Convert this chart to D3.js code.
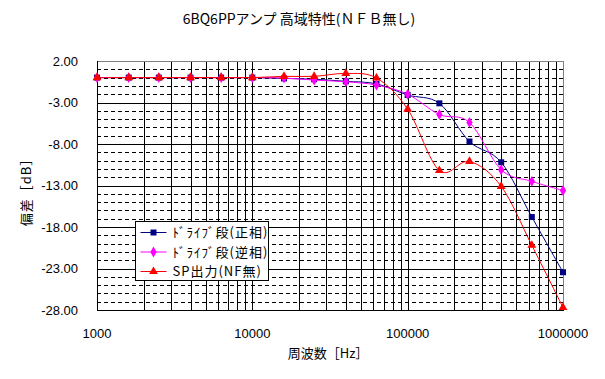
<!DOCTYPE html>
<html>
<head>
<meta charset="utf-8">
<script src="https://cdn.jsdelivr.net/npm/d3@7"></script>
<style>
  body { margin: 0; background: #fff; }
  text { font-family: "Liberation Sans", Arial, "Noto Sans CJK JP", sans-serif; fill: #000; }
  .jp { font-family: "Noto Sans CJK JP", sans-serif; }
</style>
</head>
<body>
<svg id="chart" width="605" height="379"></svg>
<script>
// data
var freqs = [1000, 1600, 2500, 4000, 6300, 10000, 16000, 25000, 40000, 63000,
             100000, 160000, 250000, 400000, 630000, 1000000];
var drivePos = [0, 0, 0, 0, 0, 0, -0.1, -0.2, -0.45, -0.75, -2.1, -3.1, -7.7, -10.2, -16.8, -23.45];
var driveNeg = [0, 0, 0, 0, 0, 0, -0.05, -0.3, -0.5, -0.9, -2.0, -4.45, -5.4, -11.1, -12.5, -13.6];
var spOut    = [0, 0, 0, 0, 0, 0, 0.15, 0.15, 0.5, -0.05, -3.8, -11.2, -10.1, -13.1, -20.2, -27.7];
var yTicks = [2, -3, -8, -13, -18, -23, -28];
var xTicks = [1000, 10000, 100000, 1000000];
var seriesNames = ["ﾄﾞﾗｲﾌﾞ段(正相)", "ﾄﾞﾗｲﾌﾞ段(逆相)", "SP出力(NF無)"];
var seriesColors = ["#000080", "#FF00FF", "#FF0000"];
var seriesShapes = [d3.symbolSquare, d3.symbolDiamond, d3.symbolTriangle];

var svg = d3.select("#chart");
var x = d3.scaleLog().domain([1000, 1000000]).range([97, 563]);
var y = d3.scaleLinear().domain([-28, 2]).range([310, 61]);

// vertical grid (all log steps solid)
var vlines = [];
for (var k = 1000; k < 1000000; k *= 10) {
  for (var m = 2; m <= 9; m++) vlines.push(k * m);
}
vlines = vlines.concat([10000, 100000]);
svg.append("g").selectAll("line").data(vlines).enter().append("line")
  .attr("x1", d => Math.round(x(d)) + 0.5).attr("x2", d => Math.round(x(d)) + 0.5)
  .attr("y1", y(2)).attr("y2", y(-28))
  .attr("stroke", "#000").attr("stroke-width", 1);

// horizontal grid: dashed each dB, solid at the labelled ticks
var hminor = d3.range(-27, 2, 1).filter(v => yTicks.indexOf(v) < 0);
svg.append("g").selectAll("line").data(hminor).enter().append("line")
  .attr("x1", x(1000)).attr("x2", x(1000000))
  .attr("y1", d => Math.round(y(d)) + 0.5).attr("y2", d => Math.round(y(d)) + 0.5)
  .attr("stroke", "#000").attr("stroke-dasharray", "4,3");
svg.append("g").selectAll("line").data(yTicks.slice(1, -1)).enter().append("line")
  .attr("x1", x(1000)).attr("x2", x(1000000))
  .attr("y1", d => Math.round(y(d)) + 0.5).attr("y2", d => Math.round(y(d)) + 0.5)
  .attr("stroke", "#000");

// plot border: gray top/right, black axes
svg.append("line").attr("x1", x(1000)).attr("x2", x(1000000) + 0.5)
  .attr("y1", Math.round(y(2)) + 0.5).attr("y2", Math.round(y(2)) + 0.5).attr("stroke", "#808080");
svg.append("line").attr("x1", Math.round(x(1000000)) + 0.5).attr("x2", Math.round(x(1000000)) + 0.5)
  .attr("y1", y(2)).attr("y2", y(-28)).attr("stroke", "#808080");
svg.append("line").attr("x1", Math.round(x(1000)) + 0.5).attr("x2", Math.round(x(1000)) + 0.5)
  .attr("y1", y(2)).attr("y2", y(-28) + 1).attr("stroke", "#000");
svg.append("line").attr("x1", x(1000)).attr("x2", x(1000000) + 1)
  .attr("y1", Math.round(y(-28)) + 0.5).attr("y2", Math.round(y(-28)) + 0.5).attr("stroke", "#000");

// tick labels
svg.append("g").selectAll("text").data(yTicks).enter().append("text")
  .attr("x", 78).attr("y", d => y(d)).attr("dy", "0.36em")
  .attr("text-anchor", "end").attr("font-size", 13)
  .text(d => d.toFixed(2));
svg.append("g").selectAll("text").data(xTicks).enter().append("text")
  .attr("x", d => x(d)).attr("y", 333).attr("dy", "0.36em")
  .attr("text-anchor", "middle").attr("font-size", 13)
  .text(d => d);

// titles
svg.append("text").attr("class", "jp").attr("x", 299).attr("y", 19).attr("dy", "0.36em")
  .attr("text-anchor", "middle").attr("font-size", 14)
  .text("6BQ6PPアンプ 高域特性(ＮＦＢ無し)");
svg.append("text").attr("class", "jp").attr("x", 328).attr("y", 353).attr("dy", "0.36em")
  .attr("text-anchor", "middle").attr("font-size", 13)
  .text("周波数［Hz］");
svg.append("text").attr("class", "jp")
  .attr("transform", "translate(26,189) rotate(-90)").attr("dy", "0.36em")
  .attr("text-anchor", "middle").attr("font-size", 13).attr("letter-spacing", 1)
  .text("偏差［dB］");

// series
var allSeries = [drivePos, driveNeg, spOut];
var line = d3.line().x((d, i) => x(freqs[i])).y(d => y(d)).curve(d3.curveCatmullRom.alpha(0));
var markerSize = [36, 34, 34];
allSeries.forEach(function (vals, s) {
  svg.append("path").datum(vals).attr("d", line)
    .attr("fill", "none").attr("stroke", seriesColors[s]).attr("stroke-width", 1);
});
allSeries.forEach(function (vals, s) {
  svg.append("g").selectAll("path").data(vals).enter().append("path")
    .attr("transform", (d, i) => "translate(" + x(freqs[i]) + "," + y(d) + ")")
    .attr("d", d3.symbol().type(seriesShapes[s]).size(markerSize[s]))
    .attr("fill", seriesColors[s]);
});

// legend
var lg = svg.append("g").attr("transform", "translate(135.5,221.5)");
lg.append("rect").attr("width", 133).attr("height", 59)
  .attr("fill", "#fff").attr("stroke", "#000");
seriesNames.forEach(function (name, s) {
  var ly = 11 + s * 19.5;
  lg.append("line").attr("x1", 5).attr("x2", 31).attr("y1", ly).attr("y2", ly)
    .attr("stroke", seriesColors[s]);
  lg.append("path").attr("transform", "translate(18," + ly + ")")
    .attr("d", d3.symbol().type(seriesShapes[s]).size(markerSize[s]))
    .attr("fill", seriesColors[s]);
  lg.append("text").attr("class", "jp").attr("x", 37).attr("y", ly).attr("dy", "0.36em")
    .attr("font-size", 13).attr("letter-spacing", 1).text(name);
});
</script>
</body>
</html>
